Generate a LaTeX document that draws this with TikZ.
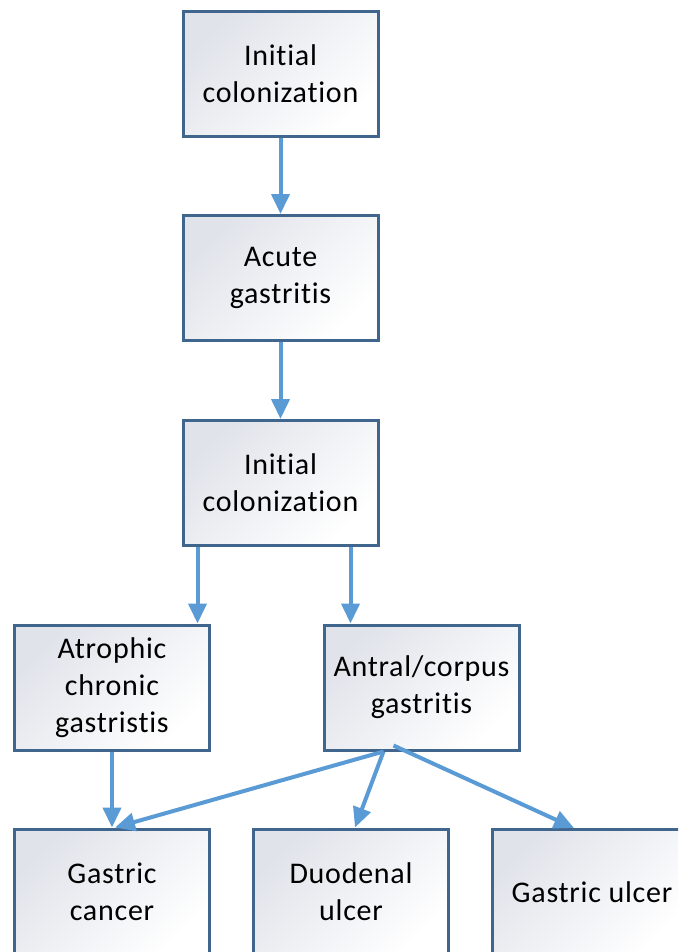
\documentclass[tikz,border=0pt]{standalone}
\usepackage{fontspec}
\setmainfont[Ligatures=NoCommon,LetterSpace=2.5]{Carlito}
\usetikzlibrary{arrows.meta,calc}
\definecolor{boxborder}{HTML}{41668E}
\definecolor{arrowblue}{HTML}{5B9BD5}
\definecolor{boxshade}{HTML}{E0E3EA}
\tikzset{
  stage/.style={draw=boxborder, line width=3pt, minimum width=195pt, minimum height=125pt,
    inner sep=0pt, align=center, font=\fontsize{30}{37}\selectfont,
    shading=axis, left color=boxshade, right color=white, shading angle=45},
  arr/.style={draw=arrowblue, line width=4pt, -{Triangle[length=20pt,width=18pt]}}
}
\begin{document}
\begin{tikzpicture}[x=1pt,y=-1pt]
\useasboundingbox (0,0) rectangle (678,952);
\begin{scope}
\clip (0,0) rectangle (678,952);
\node[stage] (b1) at (280.5,74) {Initial\\colonization};
\node[stage] (b2) at (280.5,278) {Acute\\gastritis};
\node[stage] (b3) at (280.5,483) {Initial\\colonization};
\node[stage] (b4) at (112,687.5) {Atrophic\\chronic\\gastristis};
\node[stage] (b5) at (421.5,687.5) {Antral/corpus\\gastritis};
\node[stage] (b6) at (112,891.5) {Gastric\\cancer};
\node[stage] (b7) at (351,891.5) {Duodenal\\ulcer};
\node[stage, anchor=north west] (b8) at (491,828) {};
\node at ($(b8.center)+(2,0)$) [font=\fontsize{30}{37}\selectfont] (t8) {Gastric ulcer};
\draw[arr] (b1.south) -- (b2.north);
\draw[arr] (b2.south) -- (b3.north);
\draw[arr] ([xshift=16pt]b3.south west) -- ([xshift=16pt]b3.south west |- b4.north);
\draw[arr] ([xshift=-29pt]b3.south east) -- ([xshift=-29pt]b3.south east |- b5.north);
\draw[arr] (b4.south) -- (b6.north);
\coordinate (s5) at ([xshift=-38pt]b5.south);
\coordinate (s5b) at ([xshift=-28pt,yshift=6pt]b5.south);
\draw[arr] (s5) -- ([xshift=3pt]b6.north);
\draw[arr] (s5) -- ([xshift=4pt]b7.north);
\draw[arr] (s5b) -- ([xshift=83pt]b8.north west);
\end{scope}
\end{tikzpicture}
\end{document}
